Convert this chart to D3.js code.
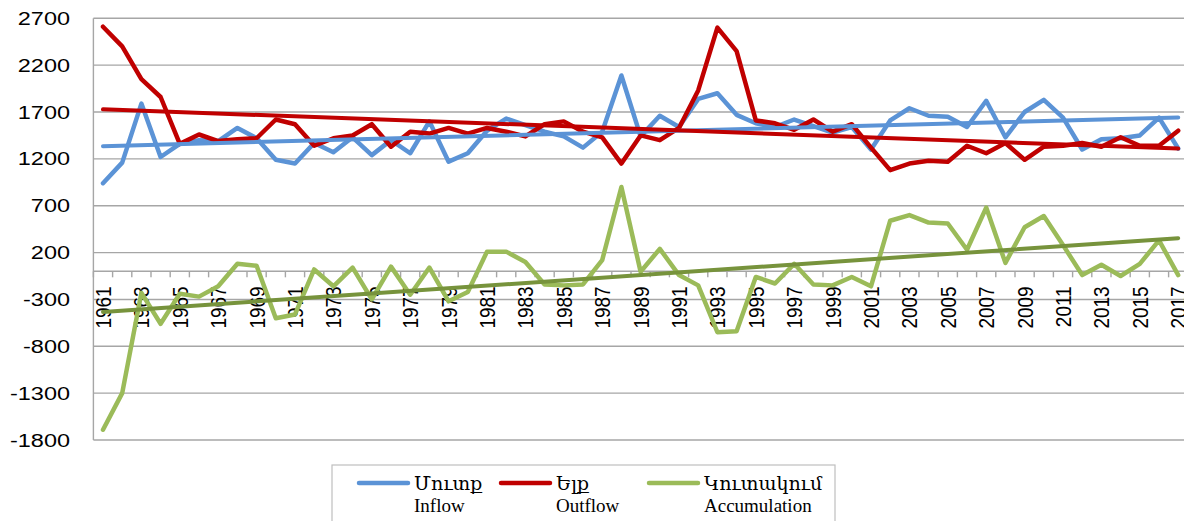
<!DOCTYPE html>
<html>
<head>
<meta charset="utf-8">
<script src="https://cdn.jsdelivr.net/npm/d3@7"></script>
<style>
  html, body { margin: 0; padding: 0; background: #fff; overflow: hidden; }
  svg { display: block; }
</style>
</head>
<body>
<svg id="chart" width="1184" height="521"></svg>
<script>
// years 1961..2017
const years = d3.range(1961, 2018);

const inflow = [940, 1160, 1790, 1220, 1360, 1400, 1390, 1530, 1420, 1190,
  1150, 1370, 1270, 1430, 1240, 1400, 1260, 1600, 1170, 1260,
  1500, 1630, 1560, 1490, 1440, 1320, 1490, 2090, 1440, 1660,
  1540, 1840, 1900, 1670, 1580, 1540, 1620, 1550, 1480, 1540,
  1300, 1610, 1740, 1660, 1650, 1540, 1820, 1430, 1700, 1830,
  1640, 1300, 1410, 1420, 1450, 1640, 1310];

const outflow = [2610, 2400, 2050, 1860, 1360, 1460, 1390, 1410, 1420, 1620,
  1570, 1340, 1420, 1450, 1570, 1330, 1490, 1470, 1530, 1470,
  1530, 1490, 1440, 1570, 1600, 1490, 1430, 1150, 1450, 1400,
  1530, 1930, 2600, 2350, 1610, 1580, 1510, 1620, 1490, 1570,
  1320, 1080, 1150, 1180, 1170, 1340, 1260, 1370, 1190, 1330,
  1340, 1370, 1330, 1430, 1340, 1340, 1500];

const accumulation = [-1690, -1300, -230, -560, -240, -270, -160, 80, 60, -500,
  -460, 20, -160, 40, -300, 50, -250, 40, -320, -220,
  210, 210, 100, -140, -150, -140, 120, 900, -5, 240,
  -40, -150, -650, -640, -60, -130, 80, -140, -150, -60,
  -160, 540, 600, 520, 510, 230, 680, 90, 470, 590,
  280, -40, 70, -50, 80, 330, -40];

const yTicks = [2700, 2200, 1700, 1200, 700, 200, -300, -800, -1300, -1800];
const xLabelYears = years.filter((y, i) => i % 2 === 0);

const seriesNames = [
  {hy: "Մուտք", en: "Inflow"},
  {hy: "Ելք", en: "Outflow"},
  {hy: "Կուտակում", en: "Accumulation"}
];
const colors = ["#5b93d6", "#c00000", "#9bbb59"];
const trendColors = ["#5b93d6", "#c00000", "#77933c"];

const svg = d3.select("#chart");
const plotLeft = 93.4, plotRight = 1187.8, plotTop = 18.3, plotBottom = 440;

const x = d3.scaleBand().domain(years).range([plotLeft, plotRight]).paddingInner(0).paddingOuter(0);
const cx = d => x(d) + x.bandwidth() / 2;
const y = d3.scaleLinear().domain([-1800, 2700]).range([plotBottom, plotTop]);

// gridlines
svg.append("g")
  .selectAll("line")
  .data(yTicks)
  .enter()
  .append("line")
  .attr("x1", plotLeft)
  .attr("x2", 1184)
  .attr("y1", d => y(d))
  .attr("y2", d => y(d))
  .attr("stroke", "#a6a6a6")
  .attr("stroke-width", 1.4);

// vertical axis line
svg.append("line")
  .attr("x1", plotLeft).attr("x2", plotLeft)
  .attr("y1", plotTop).attr("y2", plotBottom)
  .attr("stroke", "#a6a6a6").attr("stroke-width", 1.4);

// y labels
svg.append("g")
  .selectAll("text")
  .data(yTicks)
  .enter()
  .append("text")
  .attr("transform", d => "translate(70," + (y(d) + 6.5) + ") scale(1.27,1)")
  .attr("text-anchor", "end")
  .attr("font-family", "Liberation Sans, Arial, sans-serif")
  .attr("font-size", 18.5)
  .attr("fill", "#000")
  .text(d => d);

// horizontal axis at zero
const y0 = y(0);
svg.append("line")
  .attr("x1", plotLeft).attr("x2", 1184)
  .attr("y1", y0).attr("y2", y0)
  .attr("stroke", "#a6a6a6").attr("stroke-width", 1.4);

svg.append("g")
  .selectAll("line")
  .data(years.concat([2018]))
  .enter()
  .append("line")
  .attr("x1", d => d === 2018 ? plotRight : x(d))
  .attr("x2", d => d === 2018 ? plotRight : x(d))
  .attr("y1", y0)
  .attr("y2", y0 + 6)
  .attr("stroke", "#a6a6a6").attr("stroke-width", 1.4);

// x labels (rotated)
svg.append("g")
  .selectAll("text")
  .data(xLabelYears)
  .enter()
  .append("text")
  .attr("transform", d => "translate(" + (cx(d) + 8) + "," + (y0 + 15) + ") rotate(-90) scale(1,1.2)")
  .attr("text-anchor", "end")
  .attr("font-family", "Liberation Sans, Arial, sans-serif")
  .attr("font-size", 19)
  .attr("fill", "#000")
  .text(d => d);

// series lines
const allSeries = [inflow, outflow, accumulation];
const line = d3.line()
  .x((d, i) => cx(years[i]))
  .y(d => y(d));

function trend(vals) {
  const xs = years.map((d, i) => i);
  const mx = d3.mean(xs), my = d3.mean(vals);
  const num = d3.sum(xs, (xi, i) => (xi - mx) * (vals[i] - my));
  const den = d3.sum(xs, xi => (xi - mx) * (xi - mx));
  const b = num / den, a = my - b * mx;
  return [a, a + b * (years.length - 1)];
}

allSeries.forEach((vals, k) => {
  svg.append("path")
    .datum(vals)
    .attr("d", line)
    .attr("fill", "none")
    .attr("stroke", colors[k])
    .attr("stroke-width", 4.5)
    .attr("stroke-linejoin", "round")
    .attr("stroke-linecap", "round");
});

allSeries.forEach((vals, k) => {
  const t = trend(vals);
  svg.append("line")
    .attr("x1", cx(years[0]))
    .attr("x2", cx(years[years.length - 1]))
    .attr("y1", y(t[0]))
    .attr("y2", y(t[1]))
    .attr("stroke", trendColors[k])
    .attr("stroke-width", 4)
    .attr("stroke-linecap", "round");
});

// legend
const legend = svg.append("g");
legend.append("rect")
  .attr("x", 332).attr("y", 465)
  .attr("width", 503).attr("height", 80)
  .attr("fill", "#fff")
  .attr("stroke", "#bfbfbf").attr("stroke-width", 1.2);

const legendX = [359, 501, 649];
seriesNames.forEach((s, k) => {
  const g = legend.append("g").attr("transform", "translate(" + legendX[k] + ",0)");
  g.append("line")
    .attr("x1", 0).attr("x2", 49)
    .attr("y1", 483).attr("y2", 483)
    .attr("stroke", colors[k]).attr("stroke-width", 4.5)
    .attr("stroke-linecap", "round");
  g.append("text")
    .attr("x", 55).attr("y", 490)
    .attr("font-family", "Liberation Serif, DejaVu Serif, serif")
    .attr("font-size", 19)
    .attr("fill", "#000")
    .text(s.hy);
  g.append("text")
    .attr("x", 55).attr("y", 512)
    .attr("font-family", "Liberation Serif, DejaVu Serif, serif")
    .attr("font-size", 19)
    .attr("fill", "#000")
    .text(s.en);
});
</script>
</body>
</html>
